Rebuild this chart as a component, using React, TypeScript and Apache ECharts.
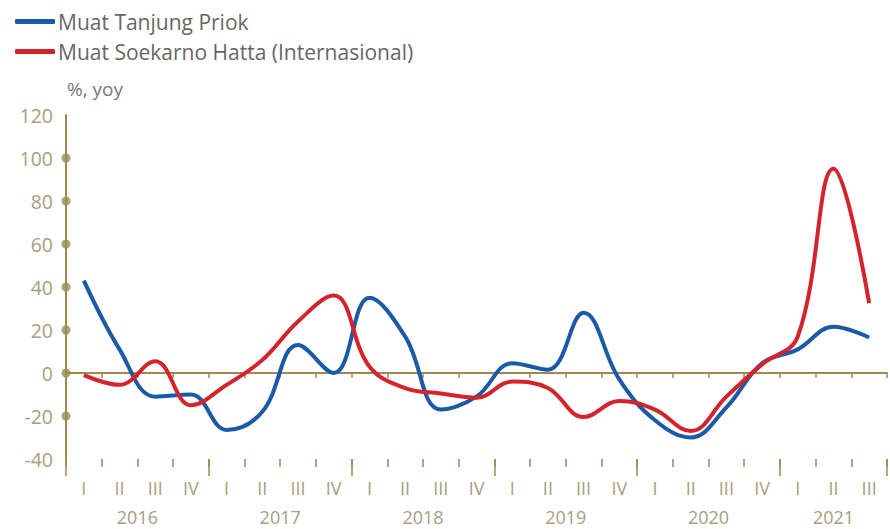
import React, { useEffect, useRef } from "react";
import * as echarts from "echarts";

// Quarterly categories, 2016 Q1 – 2021 Q3
const years = ["2016", "2017", "2018", "2019", "2020", "2021"];
const quartersPerYear = [4, 4, 4, 4, 4, 3];
const romanQuarters = ["I", "II", "III", "IV"];

// Year-on-year growth, %
const tanjungPriok = [
  43, 11, -11, -10, -26.5, -18, 13, 0, 35, 17, -17, -11, 4.5, 1.5, 28, -3, -22, -30, -16, 4.5, 11, 21.5, 16.5,
];
const soekarnoHatta = [
  -1, -5.5, 5.5, -15, -5.5, 6, 24, 36, 3, -7, -9.5, -11.5, -4, -7, -20.5, -13, -17, -27, -11, 4, 17, 95, 32.5,
];

// Y axis range and the values that carry a dot marker on the axis
const yMin = -40;
const yMax = 120;
const yStep = 20;
const yTickDots = [100, 80, 60, 40, 20, 0, -20];

const OLIVE = "#9c8a52";
const LABEL = "#a89e80";
const BLUE = "#1b5aa6";
const RED = "#d5232c";
const FONT = "'Open Sans', 'Noto Sans', sans-serif";

const categories: string[] = [];
quartersPerYear.forEach((n, yi) => {
  for (let q = 0; q < n; q++) categories.push(`${years[yi]} ${romanQuarters[q]}`);
});
const totalQuarters = categories.length;

// Year label positions on a continuous 0..N scale (centre of each year's quarters)
const yearCentres: { pos: number; label: string }[] = [];
{
  let start = 0;
  quartersPerYear.forEach((n, yi) => {
    yearCentres.push({ pos: start + n / 2, label: years[yi] });
    start += n;
  });
}

export default function App() {
  const ref = useRef<HTMLDivElement>(null);

  useEffect(() => {
    if (!ref.current) return;
    const chart = echarts.init(ref.current, undefined, { renderer: "svg" });

    const hiddenLine = { show: false, onZero: false };

    chart.setOption({
      animation: false,
      textStyle: { fontFamily: FONT },
      legend: {
        orient: "vertical",
        left: 10,
        top: 6,
        itemGap: 9,
        itemWidth: 40,
        itemHeight: 5,
        icon: "roundRect",
        textStyle: { fontSize: 21, color: "#666", fontFamily: FONT, padding: [0, 0, 0, -2] },
        data: [
          { name: "Muat Tanjung Priok", itemStyle: { color: BLUE } },
          { name: "Muat Soekarno Hatta (Internasional)", itemStyle: { color: RED } },
        ],
      },
      grid: { left: 66, right: 0, top: 115, bottom: 70, containLabel: false },
      xAxis: [
        {
          // zero line with small boundary ticks
          type: "category",
          data: categories,
          position: "bottom",
          boundaryGap: true,
          axisLine: { show: true, onZero: true, lineStyle: { color: OLIVE, width: 2 } },
          axisTick: { show: true, interval: 0, length: 5, lineStyle: { color: OLIVE, width: 1.5 } },
          axisLabel: { show: false },
          splitLine: { show: false },
        },
        {
          // quarter labels along the bottom
          type: "category",
          data: categories,
          position: "bottom",
          boundaryGap: true,
          axisLine: hiddenLine,
          axisTick: { show: true, interval: 0, length: 8, lineStyle: { color: OLIVE, width: 1.5 } },
          axisLabel: {
            interval: 0,
            margin: 20,
            fontSize: 18,
            color: LABEL,
            fontFamily: FONT,
            formatter: (v: string) => v.split(" ")[1],
          },
          splitLine: { show: false },
        },
        {
          // long ticks separating the years
          type: "category",
          data: categories,
          position: "bottom",
          boundaryGap: true,
          axisLine: hiddenLine,
          axisTick: {
            show: true,
            interval: (i: number) => i % 4 === 0,
            length: 17,
            lineStyle: { color: OLIVE, width: 1.5 },
          },
          axisLabel: { show: false },
          splitLine: { show: false },
        },
        {
          // year labels, centred under each year's quarters
          type: "value",
          position: "bottom",
          min: 0,
          max: totalQuarters,
          interval: 0.5,
          axisLine: hiddenLine,
          axisTick: { show: false },
          splitLine: { show: false },
          axisLabel: {
            margin: 49,
            fontSize: 18,
            color: LABEL,
            fontFamily: FONT,
            showMinLabel: true,
            showMaxLabel: true,
            formatter: (v: number) => {
              const hit = yearCentres.find((y) => Math.abs(y.pos - v) < 1e-6);
              return hit ? hit.label : "";
            },
          },
        },
      ],
      yAxis: {
        type: "value",
        min: yMin,
        max: yMax,
        interval: yStep,
        name: "%, yoy",
        nameLocation: "end",
        nameGap: 17,
        nameTextStyle: { fontSize: 19, color: "#777", align: "left", fontFamily: FONT, padding: [0, 0, 0, 1] },
        axisLine: { show: true, onZero: false, lineStyle: { color: OLIVE, width: 2 } },
        axisTick: { show: false },
        splitLine: { show: false },
        axisLabel: { margin: 13, fontSize: 19.5, color: LABEL, fontFamily: FONT },
      },
      series: [
        {
          name: "Muat Tanjung Priok",
          type: "line",
          xAxisIndex: 0,
          data: tanjungPriok,
          smooth: 0.4,
          symbol: "none",
          lineStyle: { color: BLUE, width: 4 },
          itemStyle: { color: BLUE },
          z: 3,
        },
        {
          name: "Muat Soekarno Hatta (Internasional)",
          type: "line",
          xAxisIndex: 0,
          data: soekarnoHatta,
          smooth: 0.4,
          symbol: "none",
          lineStyle: { color: RED, width: 4 },
          itemStyle: { color: RED },
          z: 4,
        },
        {
          name: "axis-dots",
          type: "scatter",
          xAxisIndex: 3,
          data: yTickDots.map((v) => [0, v]),
          symbol: "circle",
          symbolSize: 9,
          clip: false,
          itemStyle: { color: OLIVE },
          z: 5,
          silent: true,
        },
      ],
    });

    return () => chart.dispose();
  }, []);

  return <div ref={ref} style={{ width: 890, height: 529, position: "absolute", left: 0, top: 0 }} />;
}
